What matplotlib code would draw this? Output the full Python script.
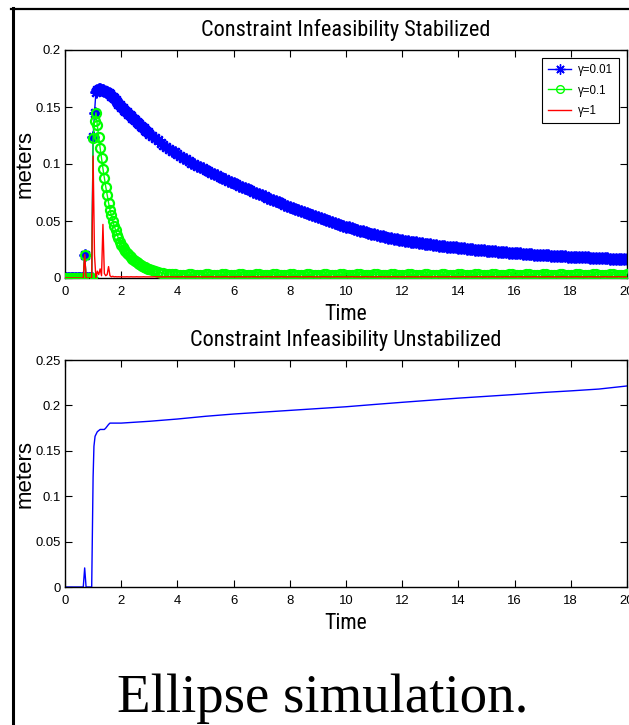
import numpy as np
import matplotlib
matplotlib.use("Agg")
import matplotlib.pyplot as plt
from matplotlib.lines import Line2D
from matplotlib import font_manager
from matplotlib.font_manager import FontProperties

plt.rcParams['font.family'] = ['Liberation Sans', 'DejaVu Sans']

# ---------------- data: stabilized (top) ----------------
time_fine = np.round(np.arange(0, 3.0, 0.05), 2)        # 0 .. 2.95
time_coarse = np.round(np.arange(3.0, 20.001, 0.1), 2)  # 3.0 .. 20.0
time_top = np.concatenate([time_fine, time_coarse])

gamma_001 = [
    # 0.00 - 0.95 (step 0.05)
    0, 0, 0, 0, 0, 0, 0, 0, 0, 0, 0, 0, 0, 0, 0.0205, 0, 0, 0, 0, 0,
    # 1.00 - 1.95
    0.124, 0.145, 0.163, 0.165, 0.166, 0.1655, 0.165, 0.1645, 0.164, 0.1635,
    0.163, 0.162, 0.161, 0.160, 0.159, 0.1575, 0.156, 0.1545, 0.153, 0.1515,
    # 2.00 - 2.95
    0.1500, 0.1488, 0.1477, 0.1465, 0.1453, 0.1441, 0.1430, 0.1418, 0.1406, 0.1394,
    0.1383, 0.1371, 0.1359, 0.1347, 0.1335, 0.1324, 0.1312, 0.1300, 0.1289, 0.1277,
    # 3.0 - 20.0 (step 0.1)
    0.1265, 0.1246, 0.1226, 0.1207, 0.1187, 0.1168, 0.1151, 0.1134, 0.1118, 0.1101,
    0.1084, 0.1070, 0.1055, 0.1041, 0.1026, 0.1012, 0.0999, 0.0986, 0.0974, 0.0961,
    0.0948, 0.0936, 0.0924, 0.0913, 0.0901, 0.0889, 0.0878, 0.0867, 0.0855, 0.0844,
    0.0833, 0.0822, 0.0811, 0.0801, 0.0790, 0.0779, 0.0768, 0.0758, 0.0747, 0.0737,
    0.0726, 0.0716, 0.0705, 0.0695, 0.0684, 0.0674, 0.0664, 0.0654, 0.0644, 0.0634,
    0.0624, 0.0614, 0.0605, 0.0595, 0.0586, 0.0576, 0.0567, 0.0558, 0.0549, 0.0540,
    0.0531, 0.0523, 0.0514, 0.0506, 0.0497, 0.0489, 0.0481, 0.0473, 0.0466, 0.0458,
    0.0450, 0.0443, 0.0436, 0.0428, 0.0421, 0.0414, 0.0408, 0.0401, 0.0395, 0.0388,
    0.0382, 0.0377, 0.0371, 0.0366, 0.0360, 0.0355, 0.0350, 0.0346, 0.0341, 0.0337,
    0.0332, 0.0328, 0.0324, 0.0320, 0.0316, 0.0312, 0.0309, 0.0305, 0.0302, 0.0298,
    0.0295, 0.0292, 0.0289, 0.0285, 0.0282, 0.0279, 0.0276, 0.0273, 0.0271, 0.0268,
    0.0265, 0.0262, 0.0260, 0.0257, 0.0255, 0.0252, 0.0250, 0.0247, 0.0245, 0.0242,
    0.0240, 0.0238, 0.0236, 0.0233, 0.0231, 0.0229, 0.0227, 0.0225, 0.0223, 0.0221,
    0.0219, 0.0217, 0.0215, 0.0214, 0.0212, 0.0210, 0.0208, 0.0206, 0.0205, 0.0203,
    0.0201, 0.0200, 0.0198, 0.0197, 0.0195, 0.0194, 0.0193, 0.0191, 0.0190, 0.0188,
    0.0187, 0.0186, 0.0185, 0.0183, 0.0182, 0.0181, 0.0180, 0.0179, 0.0177, 0.0176,
    0.0175, 0.0174, 0.0173, 0.0172, 0.0171, 0.0170, 0.0169, 0.0168, 0.0167, 0.0166,
    0.0165,
]

gamma_01 = [
    # 0.00 - 0.95
    0, 0, 0, 0, 0, 0, 0, 0, 0, 0, 0, 0, 0, 0, 0.0205, 0, 0, 0, 0, 0,
    # 1.00 - 1.95
    0.1225, 0.138, 0.145, 0.134, 0.124, 0.114, 0.105, 0.096, 0.088, 0.080,
    0.073, 0.066, 0.060, 0.055, 0.050, 0.046, 0.042, 0.038, 0.035, 0.032,
    # 2.00 - 2.95
    0.0290, 0.0272, 0.0255, 0.0238, 0.0222, 0.0208, 0.0195, 0.0182, 0.0170, 0.0159,
    0.0149, 0.0139, 0.0130, 0.0122, 0.0114, 0.0107, 0.0100, 0.0094, 0.0088, 0.0083,
    # 3.0 - 20.0
    0.0078, 0.0069, 0.0061, 0.0054, 0.0048, 0.0043, 0.0039, 0.0035, 0.0033, 0.0031,
    0.0030, 0.0029, 0.0029, 0.0030, 0.0031, 0.0031, 0.0030, 0.0029, 0.0029, 0.0030,
    0.0031, 0.0031, 0.0030, 0.0029, 0.0029, 0.0030, 0.0031, 0.0031, 0.0030, 0.0029,
    0.0029, 0.0030, 0.0031, 0.0031, 0.0030, 0.0029, 0.0029, 0.0030, 0.0031, 0.0031,
    0.0030, 0.0029, 0.0029, 0.0030, 0.0031, 0.0031, 0.0030, 0.0029, 0.0029, 0.0030,
    0.0031, 0.0031, 0.0030, 0.0029, 0.0029, 0.0030, 0.0031, 0.0031, 0.0030, 0.0029,
    0.0029, 0.0030, 0.0031, 0.0031, 0.0030, 0.0029, 0.0029, 0.0030, 0.0031, 0.0031,
    0.0030, 0.0029, 0.0029, 0.0030, 0.0031, 0.0031, 0.0030, 0.0029, 0.0029, 0.0030,
    0.0031, 0.0031, 0.0030, 0.0029, 0.0029, 0.0030, 0.0031, 0.0031, 0.0030, 0.0029,
    0.0029, 0.0030, 0.0031, 0.0031, 0.0030, 0.0029, 0.0029, 0.0030, 0.0031, 0.0031,
    0.0030, 0.0029, 0.0029, 0.0030, 0.0031, 0.0031, 0.0030, 0.0029, 0.0029, 0.0030,
    0.0031, 0.0031, 0.0030, 0.0029, 0.0029, 0.0030, 0.0031, 0.0031, 0.0030, 0.0029,
    0.0029, 0.0030, 0.0031, 0.0031, 0.0030, 0.0029, 0.0029, 0.0030, 0.0031, 0.0031,
    0.0030, 0.0029, 0.0029, 0.0030, 0.0031, 0.0031, 0.0030, 0.0029, 0.0029, 0.0030,
    0.0031, 0.0031, 0.0030, 0.0029, 0.0029, 0.0030, 0.0031, 0.0031, 0.0030, 0.0029,
    0.0029, 0.0030, 0.0031, 0.0031, 0.0030, 0.0029, 0.0029, 0.0030, 0.0031, 0.0031,
    0.0030, 0.0029, 0.0029, 0.0030, 0.0031, 0.0031, 0.0030, 0.0029, 0.0029, 0.0030,
    0.0031,
]

gamma_1 = [
    # 0.00 - 0.95
    0, 0, 0, 0, 0, 0, 0, 0, 0, 0, 0, 0, 0, 0, 0.0205, 0, 0, 0, 0, 0,
    # 1.00 - 1.95
    0.107, 0.020, 0.000, 0.006, 0.003, 0.008, 0.002, 0.047, 0.004, 0.002,
    0.003, 0.010, 0.002, 0.001, 0.0015, 0.001, 0.0012, 0.0010, 0.0011, 0.0010,
    # 2.00 - 2.95
    0.0011, 0.0010, 0.0010, 0.0010, 0.0011, 0.0010, 0.0010, 0.0011, 0.0010, 0.0010,
    0.0010, 0.0011, 0.0010, 0.0010, 0.0010, 0.0010, 0.0011, 0.0010, 0.0010, 0.0010,
    # 3.0 - 20.0
    0.0010, 0.0010, 0.0011, 0.0010, 0.0010, 0.0010, 0.0010, 0.0011, 0.0010, 0.0010,
    0.0010, 0.0010, 0.0011, 0.0010, 0.0010, 0.0010, 0.0010, 0.0011, 0.0010, 0.0010,
    0.0010, 0.0010, 0.0011, 0.0010, 0.0010, 0.0010, 0.0010, 0.0011, 0.0010, 0.0010,
    0.0010, 0.0010, 0.0011, 0.0010, 0.0010, 0.0010, 0.0010, 0.0011, 0.0010, 0.0010,
    0.0010, 0.0010, 0.0011, 0.0010, 0.0010, 0.0010, 0.0010, 0.0011, 0.0010, 0.0010,
    0.0010, 0.0010, 0.0011, 0.0010, 0.0010, 0.0010, 0.0010, 0.0011, 0.0010, 0.0010,
    0.0010, 0.0010, 0.0011, 0.0010, 0.0010, 0.0010, 0.0010, 0.0011, 0.0010, 0.0010,
    0.0010, 0.0010, 0.0011, 0.0010, 0.0010, 0.0010, 0.0010, 0.0011, 0.0010, 0.0010,
    0.0010, 0.0010, 0.0011, 0.0010, 0.0010, 0.0010, 0.0010, 0.0011, 0.0010, 0.0010,
    0.0010, 0.0010, 0.0011, 0.0010, 0.0010, 0.0010, 0.0010, 0.0011, 0.0010, 0.0010,
    0.0010, 0.0010, 0.0011, 0.0010, 0.0010, 0.0010, 0.0010, 0.0011, 0.0010, 0.0010,
    0.0010, 0.0010, 0.0011, 0.0010, 0.0010, 0.0010, 0.0010, 0.0011, 0.0010, 0.0010,
    0.0010, 0.0010, 0.0011, 0.0010, 0.0010, 0.0010, 0.0010, 0.0011, 0.0010, 0.0010,
    0.0010, 0.0010, 0.0011, 0.0010, 0.0010, 0.0010, 0.0010, 0.0011, 0.0010, 0.0010,
    0.0010, 0.0010, 0.0011, 0.0010, 0.0010, 0.0010, 0.0010, 0.0011, 0.0010, 0.0010,
    0.0010, 0.0010, 0.0011, 0.0010, 0.0010, 0.0010, 0.0010, 0.0011, 0.0010, 0.0010,
    0.0010, 0.0010, 0.0011, 0.0010, 0.0010, 0.0010, 0.0010, 0.0011, 0.0010, 0.0010,
    0.0010,
]

labels_top = ['\u03b3=0.01', '\u03b3=0.1', '\u03b3=1']

# ---------------- data: unstabilized (bottom) ----------------
time_bottom = [0, 0.65, 0.7, 0.75, 0.95, 1.0, 1.03, 1.07, 1.15, 1.25, 1.4, 1.45,
               1.55, 1.6, 2, 3, 4, 5, 6, 7, 8, 9, 10, 11, 12, 13, 14, 15, 16, 17,
               18, 19, 20]
unstab = [0, 0, 0.021, 0, 0, 0.121, 0.155, 0.166, 0.171, 0.1735, 0.1735, 0.175,
          0.179, 0.1805, 0.1805, 0.1825, 0.185, 0.188, 0.1905, 0.1925, 0.1945,
          0.1965, 0.1985, 0.201, 0.2034, 0.2057, 0.208, 0.210, 0.212, 0.2142,
          0.216, 0.218, 0.2214]

xticks = list(range(0, 21, 2))
yticks_top = [0, 0.05, 0.1, 0.15, 0.2]
yticks_bottom = [0, 0.05, 0.1, 0.15, 0.2, 0.25]
ytick_labels_top = ['0', '0.05', '0.1', '0.15', '0.2']
ytick_labels_bottom = ['0', '0.05', '0.1', '0.15', '0.2', '0.25']

# ---------------- fonts ----------------
def find_narrow():
    preferred = ['Liberation Sans Narrow', 'Nimbus Sans Narrow', 'Arial Narrow',
                 'Roboto Condensed', 'Open Sans Condensed', 'Noto Sans Condensed']
    fl = font_manager.fontManager.ttflist
    for p in preferred:
        for f in fl:
            if f.name == p and f.style == 'normal' and f.weight in (400, 'normal', 'regular'):
                return f.fname
    for f in fl:
        st = f.stretch
        cond = (isinstance(st, str) and 'condensed' in st) or \
               (isinstance(st, (int, float)) and st < 100)
        if cond and f.style == 'normal' and f.weight in (400, 'normal', 'regular') \
                and f.name in ('DejaVu Sans', 'Noto Sans', 'Open Sans', 'Roboto', 'Liberation Sans'):
            return f.fname
    return None

narrow_file = find_narrow()

def fp_narrow(size):
    if narrow_file:
        return FontProperties(fname=narrow_file, size=size)
    return FontProperties(family=['Liberation Sans', 'DejaVu Sans'], size=size)

def fp_reg(size):
    return FontProperties(family=['Liberation Sans', 'DejaVu Sans'], size=size)

# ---------------- figure ----------------
W, H = 629, 725
fig = plt.figure(figsize=(W / 100, H / 100), dpi=100)
renderer = fig.canvas.get_renderer()

def fit(s, target_px, maker, base=20.0):
    t = fig.text(0, 0, s, fontproperties=maker(base))
    w = t.get_window_extent(renderer).width
    t.remove()
    return base * target_px / w

S_TITLE = fit('Constraint Infeasibility Stabilized', 289, fp_narrow)
S_TIME = fit('Time', 43, fp_narrow)
S_METERS = fit('meters', 68, fp_reg)
S_TICK = fit('0.15', 25.5, fp_reg)
S_LEG = fit('\u03b3=0.01', 35, fp_reg)

def px_axes(left, top, right, bottom):
    return fig.add_axes([left / W, 1 - bottom / H, (right - left) / W, (bottom - top) / H])

ax1 = px_axes(65, 50, 627, 278)
ax2 = px_axes(65, 360, 627, 587)

asterisk = (8, 2, 0)
ax1.plot(time_top, gamma_001, color=(0, 0, 1), lw=1.0, marker=asterisk,
         markersize=8.5, markeredgewidth=1.6, label=labels_top[0], zorder=2)
ax1.plot(time_top, gamma_01, color=(0, 1, 0), lw=1.0, marker='o',
         markersize=6.5, markerfacecolor='none', markeredgewidth=1.6,
         label=labels_top[1], zorder=3)
ax1.plot(time_top, gamma_1, color=(1, 0, 0), lw=1.0, label=labels_top[2], zorder=4)

ax2.plot(time_bottom, unstab, color=(0, 0, 1), lw=1.0)

for ax, yt, ytl, ylim, title in [
        (ax1, yticks_top, ytick_labels_top, (0, 0.2), 'Constraint Infeasibility Stabilized'),
        (ax2, yticks_bottom, ytick_labels_bottom, (0, 0.25), 'Constraint Infeasibility Unstabilized')]:
    ax.set_xlim(0, 20)
    ax.set_ylim(*ylim)
    ax.set_xticks(xticks)
    ax.set_xticklabels([str(v) for v in xticks])
    ax.set_yticks(yt)
    ax.set_yticklabels(ytl)
    ax.tick_params(direction='in', length=5, width=0.8, top=True, right=True,
                   colors='black')
    ax.tick_params(axis='x', pad=6)
    ax.tick_params(axis='y', pad=3)
    for lab in ax.get_xticklabels() + ax.get_yticklabels():
        lab.set_fontproperties(fp_reg(S_TICK))
    for s in ax.spines.values():
        s.set_linewidth(1.0)
        s.set_color('black')
    ax.set_title(title, fontproperties=fp_narrow(S_TITLE), pad=10)
    ax.set_xlabel('Time', fontproperties=fp_narrow(S_TIME))
    ax.xaxis.set_label_coords(0.5, -0.115)
    ax.set_ylabel('meters', fontproperties=fp_reg(S_METERS))
    ax.yaxis.set_label_coords(-0.052, 0.5)

leg = ax1.legend(loc='upper right', prop=fp_reg(S_LEG), frameon=True, fancybox=False,
                 edgecolor='black', framealpha=1, handlelength=2.0,
                 borderaxespad=0.7, borderpad=0.5, labelspacing=0.75,
                 handletextpad=0.6, markerscale=0.85)
leg.get_frame().set_linewidth(0.8)
for h in leg.legend_handles:
    h.set_markeredgewidth(1.0)

# slide frame lines
fig.add_artist(Line2D([12.5 / W, 12.5 / W], [0, 1 - 8 / H], transform=fig.transFigure,
                      color='black', lw=2.2))
fig.add_artist(Line2D([11 / W, 1], [1 - 9 / H, 1 - 9 / H], transform=fig.transFigure,
                      color='black', lw=1.6))

fig.text(323 / W, 1 - 712 / H, 'Ellipse simulation.', fontsize=39.5,
         family=['Liberation Serif', 'DejaVu Serif'], ha='center', va='baseline')

fig.savefig('out.png', dpi=100)
